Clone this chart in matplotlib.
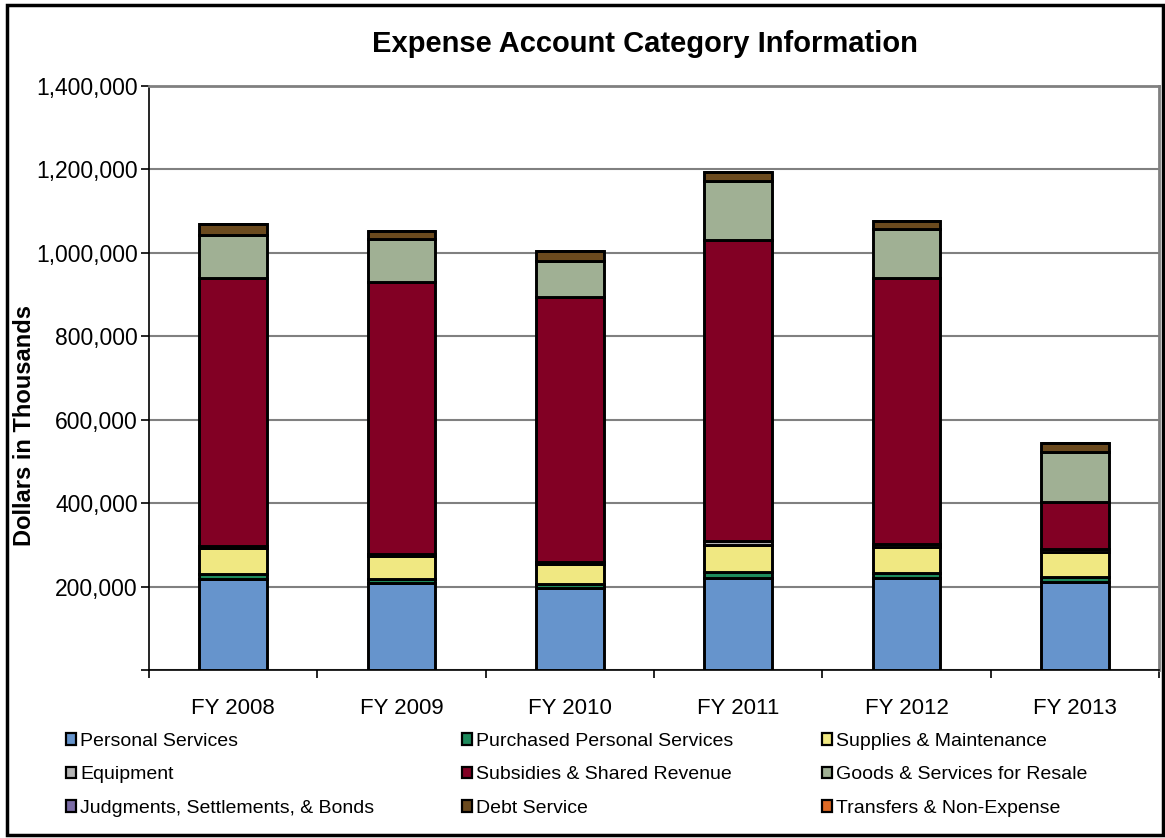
import matplotlib.pyplot as plt
import matplotlib.patches as mpatches
import numpy as np

plt.rcParams['font.family'] = ['Liberation Sans', 'DejaVu Sans']

years = ["FY 2008", "FY 2009", "FY 2010", "FY 2011", "FY 2012", "FY 2013"]
categories = ["Personal Services", "Purchased Personal Services", "Supplies & Maintenance",
              "Equipment", "Subsidies & Shared Revenue", "Goods & Services for Resale",
              "Judgments, Settlements, & Bonds", "Debt Service", "Transfers & Non-Expense"]

personal = [218000, 209000, 197000, 221000, 221000, 211000]
purchased = [12000, 10000, 10000, 15000, 11000, 11000]
supplies = [62000, 55000, 48000, 64000, 64000, 62000]
equipment = [6000, 4000, 3000, 9000, 7000, 7000]
subsidies = [641000, 651000, 635000, 721000, 636000, 112000]
goods = [103000, 104000, 87000, 142000, 118000, 120000]
judgments = [0, 0, 0, 0, 0, 0]
debt = [26000, 19000, 24000, 22000, 19000, 20000]
transfers = [0, 0, 0, 0, 0, 0]

colors = ["#6694CC", "#1E8A5C", "#F0E882", "#B4B4B4", "#820024",
          "#A0B094", "#7B6CA6", "#6B4A1E", "#DE6A26"]

series = [personal, purchased, supplies, equipment, subsidies, goods,
          judgments, debt, transfers]

W, H = 1165, 838
fig = plt.figure(figsize=(W / 100, H / 100), dpi=100)
ax = fig.add_axes([149 / W, 1 - 670 / H, (1159 - 149) / W, (670 - 86) / H])

x = np.arange(len(years))
bottom = np.zeros(len(years))
handles = []
for vals, col, name in zip(series, colors, categories):
    ax.bar(x, vals, 0.4, bottom=bottom, color=col, edgecolor="black",
           linewidth=2.1, zorder=3)
    bottom += np.array(vals)
    handles.append(mpatches.Patch(facecolor=col, edgecolor="black",
                                  linewidth=1.6, label=name))

ax.set_xlim(-0.5, 5.5)
ax.set_ylim(0, 1400000)
ax.set_yticks(np.arange(0, 1400001, 200000))
ax.set_yticklabels([f"{v:,}" if v else "" for v in range(0, 1400001, 200000)],
                   fontsize=16.5)
ax.yaxis.grid(True, color="#808080", linewidth=1.5, zorder=0)
ax.tick_params(axis="y", length=6, width=1.2, pad=2)

ax.set_xticks(np.arange(-0.5, 6, 1))
ax.set_xticklabels([])
ax.set_xticks(x, minor=True)
ax.set_xticklabels(years, minor=True, fontsize=16)
ax.tick_params(axis="x", which="major", length=6, width=1.2)
ax.tick_params(axis="x", which="minor", length=0, pad=20)

for s in ["left", "bottom"]:
    ax.spines[s].set_color("black")
    ax.spines[s].set_linewidth(1.2)
for s in ["top", "right"]:
    ax.spines[s].set_color("#808080")
    ax.spines[s].set_linewidth(2)

fig.text(25 / W, 1 - 425 / H, "Dollars in Thousands", rotation=90,
         fontsize=17, fontweight="bold", ha="center", va="center")
fig.text(645 / W, 1 - 44 / H, "Expense Account Category Information",
         fontsize=21, fontweight="bold", ha="center", va="center")

# legend laid out in three columns, row by row as in the original
col_x = [58, 454, 814]
for c in range(3):
    fig.legend(handles=[handles[r * 3 + c] for r in range(3)],
               loc="upper left", bbox_to_anchor=(col_x[c] / W, 1 - 725 / H),
               frameon=False, fontsize=14, handlelength=0.55, handleheight=0.55,
               handletextpad=0.2, labelspacing=0.85, borderaxespad=0)

fig.patches.append(mpatches.Rectangle((7 / W, 3 / H), (1163 - 7) / W, (833 - 3) / H,
                                      transform=fig.transFigure, fill=False,
                                      edgecolor="black", linewidth=2.5))

fig.savefig("out.png", dpi=100)
